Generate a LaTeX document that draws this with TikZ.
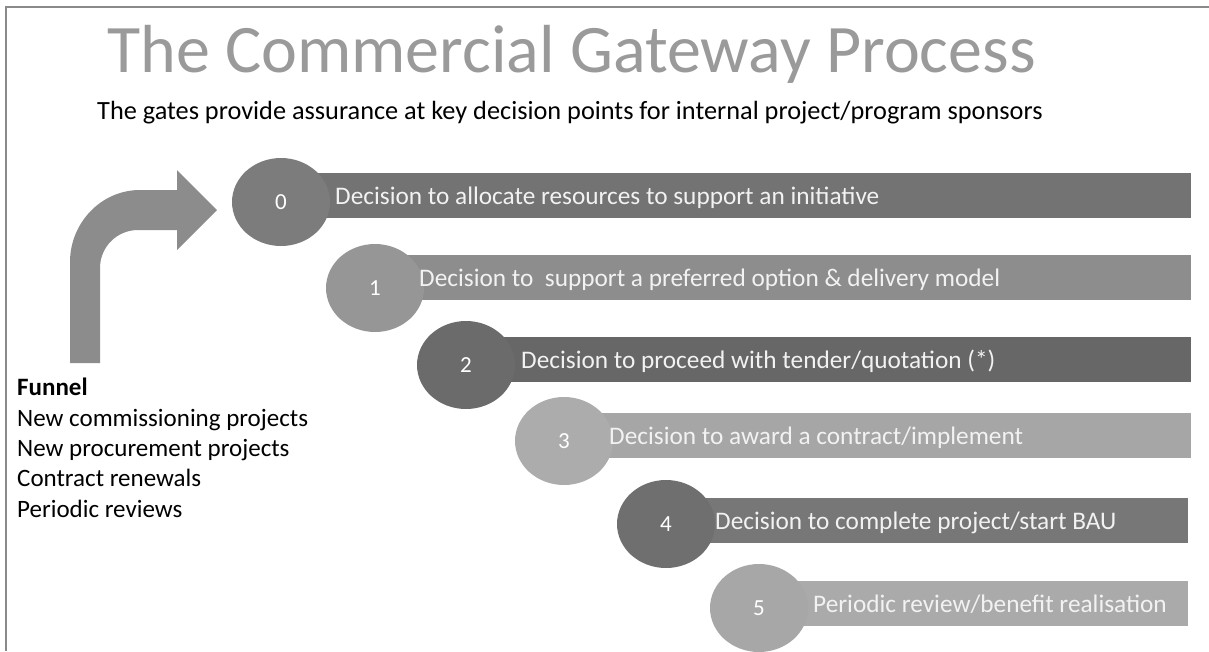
\documentclass[tikz,border=0pt]{standalone}
\usepackage{fontspec}
\setmainfont{Carlito}
\usepackage{tikz}
\usetikzlibrary{shapes.geometric}

\definecolor{framegray}{HTML}{8A8A8A}
\definecolor{titlegray}{HTML}{9A9A9A}
\definecolor{arrowgray}{HTML}{8C8C8C}
\definecolor{gate0}{HTML}{7C7C7C}
\definecolor{gate1}{HTML}{969696}
\definecolor{gate2}{HTML}{6B6B6B}
\definecolor{gate3}{HTML}{ACACAC}
\definecolor{gate4}{HTML}{6F6F6F}
\definecolor{gate5}{HTML}{A7A7A7}
\definecolor{bar0}{HTML}{737373}
\definecolor{bar1}{HTML}{8D8D8D}
\definecolor{bar2}{HTML}{676767}
\definecolor{bar3}{HTML}{A6A6A6}
\definecolor{bar4}{HTML}{777777}
\definecolor{bar5}{HTML}{AAAAAA}

\tikzset{
	gate/.style={ellipse, minimum width=98pt, minimum height=88pt, inner sep=0pt,
		text=white, font=\fontsize{23}{23}\selectfont},
	barbox/.style={rectangle, minimum height=45pt, inner sep=0pt, anchor=west},
	bartext/.style={anchor=base west, inner sep=0pt, text=white!95!black,
		font=\fontsize{25.3}{25.3}\selectfont}
}

\begin{document}
\begin{tikzpicture}[x=1pt,y=-1pt]
	\useasboundingbox (0,0) rectangle (1209,651);
	\draw[framegray, line width=2pt] (1209,7) -- (6,7) -- (6,651);
	% heading
	\node[anchor=base west, inner sep=0pt, text=titlegray, font=\fontsize{68}{68}\selectfont]
		(title) at (107,72) {The Commercial Gateway Process};
	\node[anchor=base west, inner sep=0pt, font=\fontsize{26.3}{26.3}\selectfont]
		(sub) at (97,119) {The gates provide assurance at key decision points for internal project/program sponsors};
	% bent arrow
	\fill[arrowgray] (70,363) -- (70,262) .. controls (70,223) and (101,190) .. (140,190)
		-- (177,190) -- (177,170) -- (217,210) -- (177,250) -- (177,230) -- (138,230)
		.. controls (117,230) and (100,247) .. (100,268) -- (100,363) -- cycle;
	% gates
	\foreach \n/\cx/\cy/\by/\bx in {0/281/202/195.5/1191, 1/375/288/277.5/1191,
		2/466/365/359.5/1191, 3/564/441/435.5/1191, 4/666/524/520.5/1188, 5/759/608/603.5/1188}{
		\node[barbox, fill=bar\n, minimum width=\bx pt-\cx pt] (b\n) at (\cx,\by) {};
		\node[gate, fill=gate\n] (g\n) at (\cx,\cy) {\n};}
	\node[bartext] (t0) at (335,204) {Decision to allocate resources to support an initiative};
	\node[bartext] (t1) at (419,286) {Decision to\ \ support a preferred option \& delivery model};
	\node[bartext] (t2) at (521,368) {Decision to proceed with tender/quotation (*)};
	\node[bartext] (t3) at (609,444) {Decision to award a contract/implement};
	\node[bartext] (t4) at (715,529) {Decision to complete project/start BAU};
	\node[bartext] (t5) at (813,612) {Periodic review/benefit realisation};
	% funnel
	\node[anchor=base west, inner sep=0pt, align=left, font=\fontsize{25}{30.3}\selectfont]
		(funnel) at (17,517) {\textbf{Funnel}\\New commissioning projects\\New procurement projects\\Contract renewals\\Periodic reviews};
\end{tikzpicture}
\end{document}
